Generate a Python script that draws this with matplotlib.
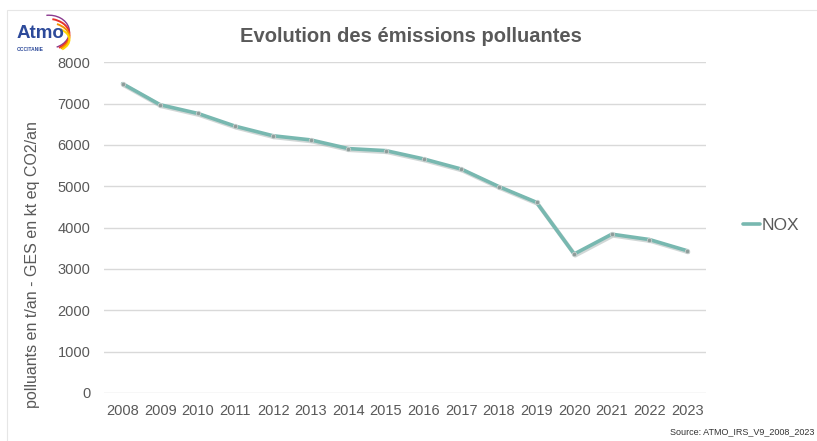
import matplotlib.pyplot as plt
from matplotlib.patches import Arc, Rectangle
import numpy as np

plt.rcParams['font.family'] = ['Liberation Sans', 'DejaVu Sans']

years = ["2008", "2009", "2010", "2011", "2012", "2013", "2014", "2015",
         "2016", "2017", "2018", "2019", "2020", "2021", "2022", "2023"]
nox = [7480, 6970, 6760, 6450, 6220, 6120, 5910, 5860,
       5660, 5415, 4990, 4610, 3360, 3840, 3710, 3440]
y_ticks = [0, 1000, 2000, 3000, 4000, 5000, 6000, 7000, 8000]

GREY = "#595959"
LINE = "#78b8b0"

fig = plt.figure(figsize=(8.17, 4.41), dpi=100)
ax = fig.add_axes([0.127, 0.109, 0.737, 0.750])

x = np.arange(len(years))
# soft shadow beneath the series
ax.plot(x + 0.03, np.array(nox) - 35, color="#9aa8a6", lw=3.0, alpha=0.45,
        solid_capstyle="round", zorder=2)
ax.plot(x, nox, color=LINE, lw=2.6, solid_capstyle="round", zorder=3,
        label="NOX")
ax.plot(x, nox, "o", ms=3.2, color="#8d9c9a", mec="#c8d0cf", mew=0.6, zorder=4)

ax.set_xlim(-0.5, len(years) - 0.5)
ax.set_ylim(0, 8000)
ax.set_yticks(y_ticks)
ax.set_yticklabels([str(v) for v in y_ticks])
ax.set_xticks(x)
ax.set_xticklabels(years)
ax.tick_params(length=0, labelsize=10.5, colors=GREY, pad=8)
ax.tick_params(axis="y", pad=9.5)
ax.grid(axis="y", color="#d9d9d9", lw=1)
ax.set_axisbelow(True)
for s in ax.spines.values():
    s.set_visible(False)

ax.set_ylabel("polluants en t/an - GES en kt eq CO2/an", fontsize=11.5,
              color=GREY)
ax.yaxis.set_label_coords(-0.106, 0.387)

fig.text(0.503, 0.918, "Evolution des émissions polluantes", ha="center",
         va="center", fontsize=14.5, fontweight="bold", color=GREY)

ax.legend(loc="center left", bbox_to_anchor=(1.035, 0.505), frameon=False,
          fontsize=12.5, handlelength=1.0, handletextpad=0.1,
          labelcolor=GREY)

fig.text(0.997, 0.02, "Source: ATMO_IRS_V9_2008_2023", ha="right",
         va="center", fontsize=6.5, color="#333333")

# logo in the top-left corner
fig.text(0.020, 0.925, "Atmo", fontsize=13.5, fontweight="bold",
         color="#2d4a9a", va="center", ha="left")
fig.text(0.021, 0.888, "OCCITANIE", fontsize=3.5, fontweight="bold",
         color="#2d4a9a", va="center", ha="left")
for i, col in enumerate(["#8a3a8f", "#e8332a", "#f39200", "#ffd400"]):
    fig.add_artist(Arc((0.060 - 0.002 * i, 0.928 - 0.006 * i),
                       0.050 + 0.004 * i, 0.075 - 0.004 * i,
                       theta1=-75 + 10 * i, theta2=95 - 15 * i, color=col,
                       lw=1.0 if i == 0 else 1.4, transform=fig.transFigure))
fig.add_artist(Rectangle((0.009, -0.01), 1.2, 0.988, fill=False,
                         ec="#e6e6e6", lw=0.8, transform=fig.transFigure))

fig.savefig("out.png", dpi=100)
